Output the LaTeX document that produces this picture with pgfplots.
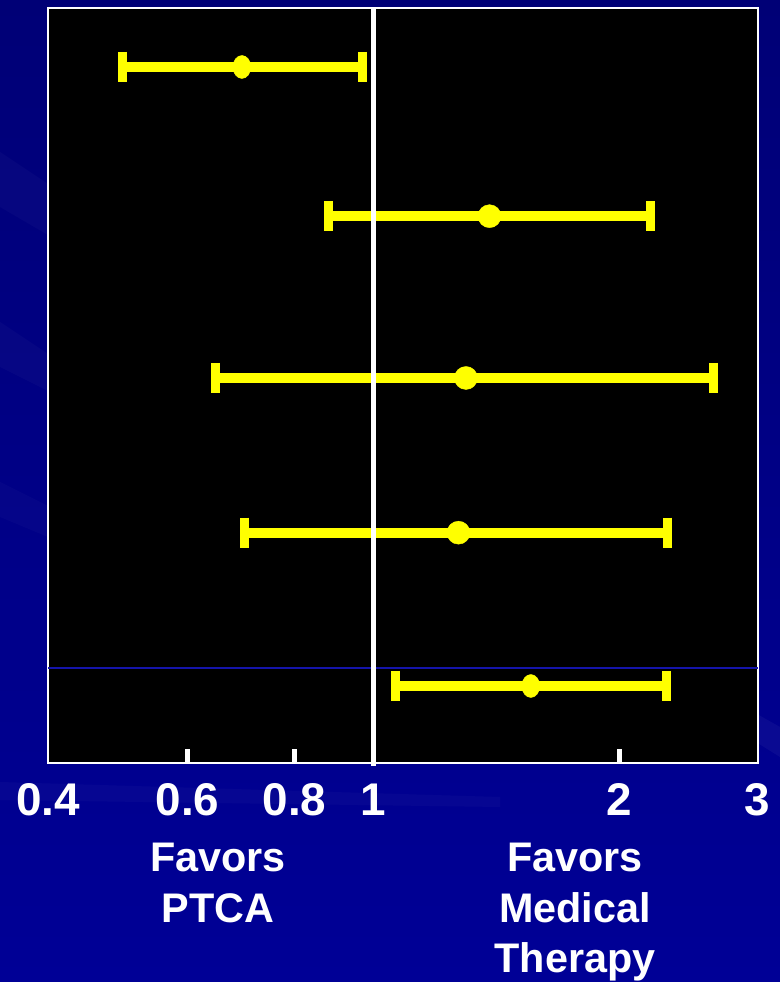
\documentclass[border=0pt]{standalone}
\usepackage{fontspec}
\setmainfont{Liberation Sans}
\usepackage{pgfplots}
\pgfplotsset{compat=1.18}
\definecolor{bgtop}{RGB}{0,0,118}
\definecolor{bgbot}{RGB}{0,0,150}
\definecolor{ylw}{RGB}{255,255,0}
\definecolor{sepblue}{RGB}{20,20,170}
\begin{document}
\begin{tikzpicture}[x=1bp,y=1bp]
\shade[top color=bgtop, bottom color=bgbot] (0,0) rectangle (780,982);
\fill[white, opacity=0.025] (0,830) -- (60,790) -- (60,740) -- (0,775) -- cycle;
\fill[white, opacity=0.025] (0,660) -- (60,620) -- (60,585) -- (0,615) -- cycle;
\fill[white, opacity=0.02] (0,500) -- (60,470) -- (60,440) -- (0,465) -- cycle;
\fill[white, opacity=0.04] (700,300) -- (780,255) -- (780,225) -- (700,275) -- cycle;
\fill[white, opacity=0.025] (0,200) -- (500,185) -- (500,175) -- (0,182) -- cycle;
\begin{axis}[
  at={(48.3bp,219.3bp)}, anchor=south west,
  scale only axis, width=709.4bp, height=754.4bp,
  xmode=log, xmin=0.4, xmax=2.95, ymin=0, ymax=754.4,
  clip=false,
  axis background/.style={fill=black},
  axis line style={white, line width=2bp},
  ytick=\empty, xminorticks=false,
  xtick={0.592,0.8,1,2}, xticklabels={0.6,0.8,1,2},
  extra x ticks={0.4,2.95}, extra x tick labels={0.4,3},
  extra x tick style={major tick length=0pt},
  xtick pos=bottom, tick align=inside,
  major tick length=14bp,
  every tick/.style={white, line width=5bp},
  xticklabel style={white, font=\fontsize{46}{46}\selectfont\bfseries, anchor=base, yshift=-53bp},
]
\addplot[sepblue, line width=1.2bp] coordinates {(0.4,94.7) (2.95,94.7)};
% confidence intervals
\addplot[ylw, line width=10bp] coordinates {(0.4926,695.7) (0.9692,695.7)};
\addplot[ylw, line width=10bp] coordinates {(0.8805,546.5) (2.184,546.5)};
\addplot[ylw, line width=10bp] coordinates {(0.6402,384.7) (2.608,384.7)};
\addplot[ylw, line width=10bp] coordinates {(0.6949,230.0) (2.285,230.0)};
\addplot[ylw, line width=10bp] coordinates {(1.064,76.7) (2.279,76.7)};
% caps
\addplot[ylw, only marks, mark=|, mark size=15bp, mark options={line width=9bp}] coordinates {
  (0.4926,695.7) (0.9692,695.7)
  (0.8805,546.5) (2.184,546.5)
  (0.6402,384.7) (2.608,384.7)
  (0.6949,230.0) (2.285,230.0)
  (1.064,76.7) (2.279,76.7)};
% point estimates
\addplot[ylw, only marks, mark=*, mark size=11.5bp, mark options={fill=ylw, draw=ylw}] coordinates {
  (1.386,546.5) (1.297,384.7) (1.270,230.0)};
\addplot[ylw, only marks, mark=*, mark size=11.5bp, mark options={fill=ylw, draw=ylw, xscale=0.78}] coordinates {
  (0.6901,695.7) (1.557,76.7)};
% line of no effect
\addplot[white, line width=4.5bp] coordinates {(1,-3) (1,754.4)};
\end{axis}
\begin{scope}[every node/.style={white, font=\fontsize{41.5}{41.5}\selectfont\bfseries, anchor=base, inner sep=0pt}]
\node at (218,110) {Favors};
\node at (218,59) {PTCA};
\node at (575,110) {Favors};
\node at (575,59) {Medical};
\node at (575,9) {Therapy};
\end{scope}
\pgfresetboundingbox
\useasboundingbox (0,0) rectangle (780,982);
\end{tikzpicture}
\end{document}
